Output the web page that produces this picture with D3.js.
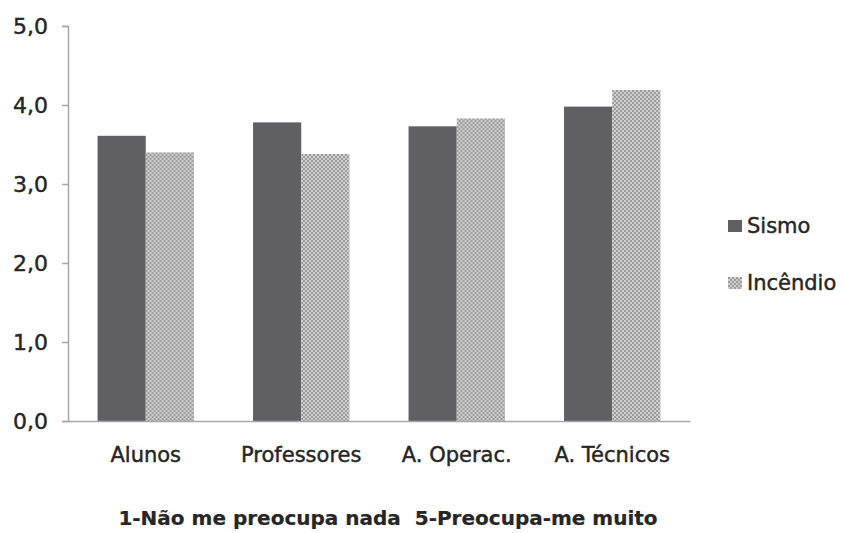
<!DOCTYPE html>
<html>
<head>
<meta charset="utf-8">
<script src="https://cdn.jsdelivr.net/npm/d3@7"></script>
<style>
  body { margin: 0; background: #fff; }
  text { font-family: "DejaVu Sans", sans-serif; fill: #262626; stroke: #262626; stroke-width: 0.45px; white-space: pre; }
</style>
</head>
<body>
<div id="chart"></div>
<script>
// data
let categories = ["Alunos", "Professores", "A. Operac.", "A. Técnicos"];
let seriesNames = ["Sismo", "Incêndio"];
let sismo = [3.61, 3.78, 3.73, 3.98];
let incendio = [3.40, 3.38, 3.83, 4.19];
let yTicks = [0, 1, 2, 3, 4, 5];
let caption = "1-Não me preocupa nada  5-Preocupa-me muito";

let svgWidth = 843;
let svgHeight = 533;
let margin = { top: 26, right: 153, bottom: 112, left: 68 };
let chartWidth = svgWidth - margin.left - margin.right;
let chartHeight = svgHeight - margin.top - margin.bottom;

let svg = d3.select("#chart")
    .append("svg")
    .attr("width", svgWidth)
    .attr("height", svgHeight);

// checker pattern for Incêndio
let defs = svg.append("defs");
let pat = defs.append("pattern")
    .attr("id", "checker")
    .attr("patternUnits", "userSpaceOnUse")
    .attr("width", 4)
    .attr("height", 4);
pat.append("rect").attr("width", 4).attr("height", 4).attr("fill", "#cfcfcf");
pat.append("rect").attr("width", 2).attr("height", 2).attr("fill", "#9c9c9c");
pat.append("rect").attr("x", 2).attr("y", 2).attr("width", 2).attr("height", 2).attr("fill", "#9c9c9c");

let fills = ["#606062", "url(#checker)"];

let chartGroup = svg.append("g")
    .attr("transform", `translate(${margin.left},${margin.top})`);

let xScale = d3.scaleBand()
    .domain(categories)
    .range([0, chartWidth])
    .paddingInner(0.38)
    .paddingOuter(0.19);

let xSub = d3.scaleBand()
    .domain(seriesNames)
    .range([0, xScale.bandwidth()]);

let yScale = d3.scaleLinear()
    .domain([0, 5])
    .range([chartHeight, 0]);

let rows = categories.map((c, i) => ({ cat: c, values: [sismo[i], incendio[i]] }));

let groups = chartGroup.selectAll(".cat")
    .data(rows)
    .enter()
    .append("g")
    .attr("transform", d => `translate(${xScale(d.cat)},0)`);

groups.selectAll("rect")
    .data(d => d.values.map((v, j) => ({ name: seriesNames[j], value: v, j: j })))
    .enter()
    .append("rect")
    .attr("x", d => xSub(d.name))
    .attr("width", xSub.bandwidth())
    .attr("y", d => yScale(d.value))
    .attr("height", d => chartHeight - yScale(d.value))
    .attr("fill", d => fills[d.j]);

// y axis
let yAxis = d3.axisLeft(yScale)
    .tickValues(yTicks)
    .tickSize(6)
    .tickPadding(14)
    .tickFormat(d => d3.format(".1f")(d).replace(".", ","));

let yG = chartGroup.append("g").call(yAxis);
yG.select(".domain").attr("stroke", "#a6a6a6").attr("stroke-width", 1.5);
yG.selectAll(".tick line").attr("stroke", "#a6a6a6").attr("stroke-width", 1.5);
yG.selectAll(".tick text").style("font-size", "22px").attr("fill", "#262626");

// x axis
let xAxis = d3.axisBottom(xScale).tickSize(0).tickPadding(26);
let xG = chartGroup.append("g")
    .attr("transform", `translate(0,${chartHeight})`)
    .call(xAxis);
xG.select(".domain").attr("stroke", "#a6a6a6").attr("stroke-width", 1.5);
xG.selectAll(".tick text").style("font-size", "21px").attr("fill", "#262626");

// legend
let legend = svg.append("g")
    .attr("transform", "translate(728,220)");
seriesNames.forEach((name, i) => {
    let g = legend.append("g").attr("transform", `translate(0,${i * 57})`);
    g.append("rect")
        .attr("width", 14)
        .attr("height", 12)
        .attr("fill", fills[i]);
    g.append("text")
        .attr("x", 19)
        .attr("y", 13)
        .style("font-size", "21px")
        .text(name);
});

// caption
svg.append("text")
    .attr("x", 388)
    .attr("y", 525)
    .attr("text-anchor", "middle")
    .style("font-size", "20px")
    .style("font-weight", "bold")
    .style("stroke-width", "0.2px")
    .text(caption);
</script>
</body>
</html>
